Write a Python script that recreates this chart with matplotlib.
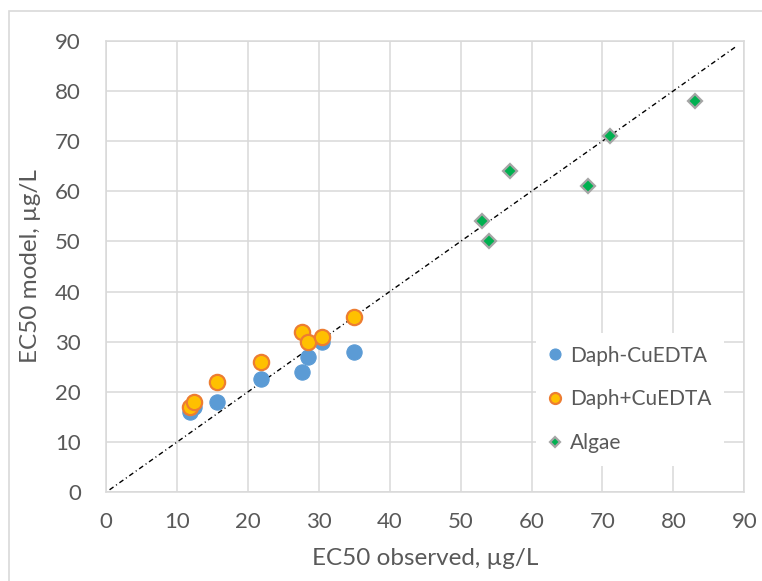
import matplotlib
matplotlib.use("Agg")
import matplotlib.pyplot as plt
from matplotlib.patches import Rectangle

plt.rcParams['font.family'] = ['Lato', 'DejaVu Sans']

# Observed EC50 values shared by both Daphnia series (µg/L)
daph_obs = [11.8, 12.4, 15.7, 21.8, 27.6, 28.5, 30.4, 34.9]
daph_minus_model = [16.0, 17.0, 18.0, 22.5, 24.0, 27.0, 30.0, 28.0]
daph_plus_model = [17.0, 18.0, 22.0, 26.0, 32.0, 30.0, 31.0, 35.0]

algae_obs = [53.0, 54.0, 57.0, 68.0, 71.0, 83.0]
algae_model = [54.0, 50.0, 64.0, 61.0, 71.0, 78.0]

# 1:1 reference line
line_x = [0.5, 89.0]
line_y = [0.5, 89.0]

ticks = [0, 10, 20, 30, 40, 50, 60, 70, 80, 90]

text_col = '#595959'
grid_col = '#D9D9D9'

fig = plt.figure(figsize=(7.62, 5.81), dpi=100)
ax = fig.add_axes([106 / 762, 1 - 492.3 / 581, (744.3 - 106) / 762, (492.3 - 40.7) / 581])

ax.set_xlim(0, 90)
ax.set_ylim(0, 90)
ax.set_xticks(ticks)
ax.set_yticks(ticks)
ax.grid(True, color=grid_col, linewidth=1.1, zorder=0)
ax.set_axisbelow(True)
for s in ax.spines.values():
    s.set_color(grid_col)
    s.set_linewidth(1.1)
ax.tick_params(length=0, labelsize=16, labelcolor=text_col)
ax.tick_params(axis='y', pad=18)
ax.tick_params(axis='x', pad=14)

ax.plot(line_x, line_y, color='black', linewidth=1.0,
        linestyle=(0, (3.5, 2.2, 0.8, 2.2)), zorder=2)

ax.plot(daph_obs, daph_minus_model, linestyle='none', marker='o', markersize=11,
        markerfacecolor='#5B9BD5', markeredgecolor='#5B9BD5', markeredgewidth=0.8,
        label='Daph-CuEDTA', zorder=3)
ax.plot(daph_obs, daph_plus_model, linestyle='none', marker='o', markersize=11,
        markerfacecolor='#FFC000', markeredgecolor='#ED7D31', markeredgewidth=1.6,
        label='Daph+CuEDTA', zorder=4)
ax.plot(algae_obs, algae_model, linestyle='none', marker='D', markersize=7.5,
        markerfacecolor='#00B050', markeredgecolor='#A5A5A5', markeredgewidth=1.6,
        label='Algae', zorder=4)

ax.set_xlabel('EC50 observed, µg/L', fontsize=17.5, color=text_col, labelpad=12)
ax.set_ylabel('EC50 model, µg/L', fontsize=17.5, color=text_col, labelpad=10)

leg = ax.legend(loc='upper left', bbox_to_anchor=((536 - 106) / 638.3, 1 - (333 - 40.7) / 451.6),
                frameon=True, fontsize=15, labelcolor=text_col, markerscale=0.72,
                handlelength=0.6, handletextpad=0.45, labelspacing=1.15,
                borderpad=0.6, borderaxespad=0)
leg.get_frame().set_facecolor('white')
leg.get_frame().set_edgecolor('none')
leg.get_frame().set_alpha(1)

# Chart area border
fig.patches.append(Rectangle((9 / 762, -0.1), 1.2, 1 - 11 / 581 + 0.1,
                             transform=fig.transFigure, fill=False,
                             edgecolor=grid_col, linewidth=1.2))

fig.savefig('out.png', dpi=100)
